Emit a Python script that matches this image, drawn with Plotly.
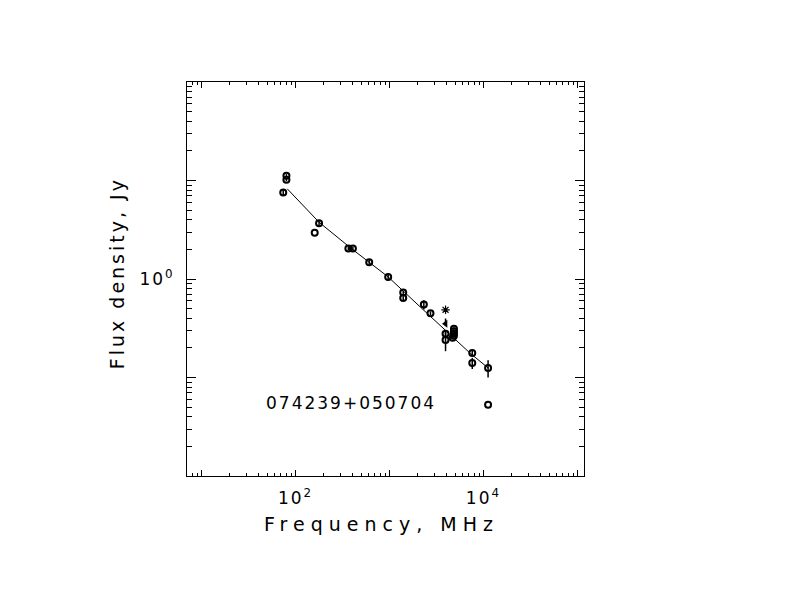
import plotly.graph_objects as go

# measured points: frequency (MHz), flux density (Jy), error (Jy)
freq = [74, 80, 80, 160, 178, 365, 408, 608, 968, 1400, 1400, 2320, 2730,
        3950, 3950, 4700, 4850, 4850, 4850, 4850, 7600, 7600, 11200, 11200]
flux = [7.55, 11.2, 10.2, 2.94, 3.69, 2.04, 2.04, 1.48, 1.05, 0.73, 0.64, 0.55, 0.45,
        0.278, 0.240, 0.253, 0.313, 0.295, 0.280, 0.265, 0.177, 0.140, 0.125, 0.053]
flux_err = [0.6, 0.4, 0.4, 0, 0.25, 0.1, 0.1, 0.08, 0.09, 0.03, 0.03, 0.06, 0.02,
            0.02, 0.055, 0, 0.01, 0.01, 0.01, 0.01, 0.01, 0.018, 0.025, 0]

# odd symbols
star_freq = [3950]
star_flux = [0.487]
tri_freq = [3950]
tri_flux = [0.351]
tri_err_up = [0.046]

# fitted spectrum line
fit_freq = [81.6, 178, 385, 968, 2140, 7280, 11220]
fit_flux = [8.24, 3.77, 2.07, 1.05, 0.517, 0.175, 0.125]

source_name = "074239+050704"

FONT = "DejaVu Sans"


def spaced(s, px):
    return '<span style="letter-spacing:%dpx">%s</span>' % (px, s)


fig = go.Figure()

fig.add_trace(go.Scatter(
    x=fit_freq, y=fit_flux, mode="lines",
    line=dict(color="black", width=1), hoverinfo="skip"))

fig.add_trace(go.Scatter(
    x=freq, y=flux, mode="markers",
    marker=dict(symbol="circle-open", size=6, color="black", line=dict(width=2)),
    error_y=dict(type="data", array=flux_err, color="black", thickness=1.5, width=0)))

fig.add_trace(go.Scatter(
    x=star_freq, y=star_flux, mode="markers",
    marker=dict(symbol="asterisk-open", size=7, color="black", line=dict(width=1.2))))

fig.add_trace(go.Scatter(
    x=tri_freq, y=tri_flux, mode="markers",
    marker=dict(symbol="triangle-left", size=7, color="black"),
    error_y=dict(type="data", symmetric=False, array=tri_err_up, arrayminus=[0],
                 color="black", thickness=1.5, width=0)))

x_minor = [m * 10 ** d for d in range(0, 6) for m in range(2, 10)]
y_minor = [m * 10 ** d for d in range(-2, 2) for m in range(2, 10)]

fig.update_xaxes(
    type="log", range=[0.845, 5.07],
    showline=True, linecolor="black", linewidth=1, mirror="allticks",
    showgrid=False, zeroline=False,
    ticks="inside", ticklen=6, tickcolor="black",
    tickvals=[10, 100, 1000, 10000, 100000],
    ticktext=[" ", spaced("10<sup>2</sup>", 2), " ", spaced("10<sup>4</sup>", 2), " "],
    tickfont=dict(family=FONT, size=17, color="black"),
    ticklabelstandoff=7,
    minor=dict(tickvals=x_minor, ticks="inside", ticklen=3, tickcolor="black", showgrid=False),
)
fig.update_yaxes(
    type="log", range=[-2, 2],
    showline=True, linecolor="black", linewidth=1, mirror="allticks",
    showgrid=False, zeroline=False,
    ticks="inside", ticklen=9, tickcolor="black",
    tickvals=[0.01, 0.1, 1, 10, 100],
    ticktext=[" ", " ", spaced("10<sup>0</sup>", 2), " ", " "],
    tickfont=dict(family=FONT, size=17, color="black"),
    ticklabelstandoff=8,
    minor=dict(tickvals=y_minor, ticks="inside", ticklen=5, tickcolor="black", showgrid=False),
)

fig.add_annotation(
    text=spaced(source_name, 2), xref="paper", yref="paper", x=0.413, y=0.1865,
    xanchor="center", yanchor="middle",
    showarrow=False, font=dict(family=FONT, size=17, color="black"))
fig.add_annotation(
    text=spaced("Frequency, MHz", 6), xref="paper", yref="paper", x=0.491, y=-0.122,
    xanchor="center", yanchor="middle",
    showarrow=False, font=dict(family=FONT, size=19, color="black"))
fig.add_annotation(
    text=spaced("Flux density, Jy", 3), xref="paper", yref="paper", x=-0.176, y=0.515,
    xanchor="center", yanchor="middle",
    textangle=-90, showarrow=False, font=dict(family=FONT, size=19, color="black"))

fig.update_layout(
    width=792, height=612,
    margin=dict(l=179, r=216, t=74, b=144),
    paper_bgcolor="white", plot_bgcolor="white",
    showlegend=False,
)

fig.write_html("out.html")
